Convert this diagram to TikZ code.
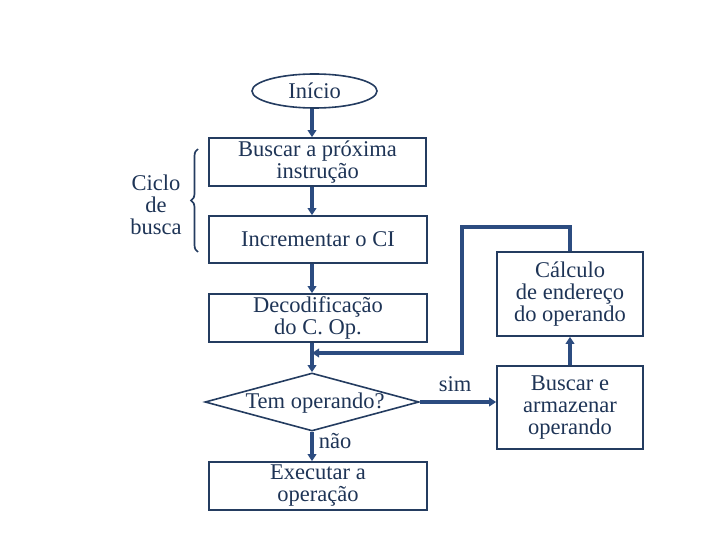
\documentclass[tikz,border=0pt]{standalone}
\usepackage{fontspec}
\setmainfont{Liberation Serif}
\usetikzlibrary{shapes.geometric,arrows.meta,decorations.pathreplacing}
\definecolor{boxc}{RGB}{36,60,96}
\definecolor{arrc}{RGB}{44,76,128}
\definecolor{txtc}{RGB}{30,52,86}
\begin{document}
\begin{tikzpicture}[x=1pt,y=-1pt,
  every node/.style={text=txtc,font=\fontsize{22.5}{22}\selectfont,align=center,inner sep=0pt},
  pbox/.style={draw=boxc,line width=1.6pt,rectangle},
  conn/.style={draw=arrc,line width=3.4pt,-{Triangle[length=7pt,width=8.5pt]}},
  lbl/.style={}]
\useasboundingbox (0,0) rectangle (720,540);
\coordinate (col) at (312,0);
\node[draw=boxc,line width=1.6pt,ellipse,minimum width=125pt,minimum height=34pt] (start) at (314.5,91) {Início};
\node[pbox,minimum width=217pt,minimum height=48pt] (b1) at (317.5,162) {Buscar a próxima\\instrução};
\node[pbox,minimum width=218pt,minimum height=47pt] (b2) at (318,239.5) {Incrementar o CI};
\node[pbox,minimum width=218pt,minimum height=48pt] (b3) at (318,318) {Decodificação\\do C. Op.};
\node[draw=boxc,line width=1.6pt,diamond,aspect=3.7,minimum width=214pt,minimum height=58pt] (dec) at (312,402) {};
\node (dectxt) at (315,403) {Tem operando?};
\node[pbox,minimum width=218pt,minimum height=48pt] (ex) at (318,486) {Executar a\\operação};
\node[pbox,minimum width=146pt,minimum height=84pt] (calc) at (570,294) {Cálculo\\de endereço\\do operando};
\node[pbox,minimum width=146pt,minimum height=83pt] (fetch) at (570,407.5) {Buscar e\\armazenar\\operando};
\node[lbl] (sim) at (455,384) {sim};
\node[lbl] (nao) at (335,441) {não};
\node (ciclo) at (156,205) {Ciclo\\de\\busca};
\coordinate (merge) at (312,353);
\coordinate (fb1) at (570,227);
\coordinate (fb2) at (462,227);
\coordinate (fb3) at (462,353);
\draw[draw=boxc,line width=1.7pt,decorate,decoration={brace,amplitude=7pt}] (198,252) -- (198,149);
\draw[conn] (start.south -| col) -- (b1.north -| col);
\draw[conn] (b1.south -| col) -- (b2.north -| col);
\draw[conn] (b2.south -| col) -- (b3.north -| col);
\draw[conn] (b3.south -| col) -- (dec.north);
\draw[conn] (dec.south) -- (ex.north -| col);
\draw[conn] (dec.east) -- (fetch.west |- dec.east);
\draw[conn] (fetch.north) -- (calc.south);
\draw[conn] (calc.north) -- (fb1) -- (fb2) -- (fb3) -- (merge);
\end{tikzpicture}
\end{document}
